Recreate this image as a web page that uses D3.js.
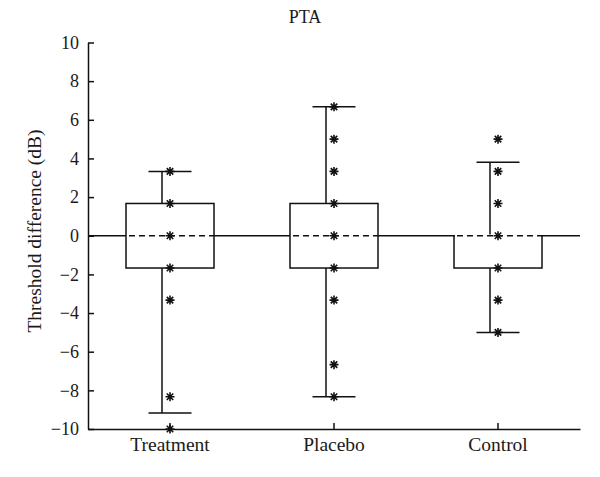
<!DOCTYPE html>
<html>
<head>
<meta charset="utf-8">
<script src="https://cdn.jsdelivr.net/npm/d3@7"></script>
<style>
  body { margin: 0; background: #fff; }
  text { font-family: "Liberation Serif", "DejaVu Serif", serif; fill: #1a1a1a; }
</style>
</head>
<body>
<svg width="600" height="477"></svg>
<script>
var categories = ["Treatment", "Placebo", "Control"];
var boxLow = [-1.67, -1.67, -1.67];
var boxHigh = [1.67, 1.67, 0];
var medians = [0, 0, 0];
var whiskerLow = [-9.17, -8.33, -5];
var whiskerHigh = [3.33, 6.67, 3.8];
var points = [
    [3.33, 1.67, 0, -1.67, -3.33, -8.33, -10],
    [6.67, 5, 3.33, 1.67, 0, -1.67, -3.33, -6.67, -8.33],
    [5, 3.33, 1.67, 0, -1.67, -3.33, -5]
];
var yTicks = [-10, -8, -6, -4, -2, 0, 2, 4, 6, 8, 10];

var plot = {left: 88, right: 580, top: 42.5, bottom: 429};
var boxWidth = 88;
var capWidth = 43;
var whiskerShift = -8;
var lineStroke = 1.5;

var svg = d3.select("svg");

var x = d3.scaleBand()
    .domain(categories)
    .range([plot.left, plot.right]);
var y = d3.scaleLinear()
    .domain([-10, 10])
    .range([plot.bottom, plot.top]);

function center(d) { return x(d) + x.bandwidth() / 2; }

// asterisk marker: plus and cross combined
var asterisk = {
    draw: function(context, size) {
        var r = Math.sqrt(size) / 2;
        var t = r * 0.72;
        context.moveTo(-r, 0); context.lineTo(r, 0);
        context.moveTo(0, -r); context.lineTo(0, r);
        context.moveTo(-t, -t); context.lineTo(t, t);
        context.moveTo(-t, t); context.lineTo(t, -t);
    }
};

// zero line across the plot
svg.append("line")
    .attr("x1", plot.left)
    .attr("x2", plot.right)
    .attr("y1", y(0))
    .attr("y2", y(0))
    .attr("stroke", "#111")
    .attr("stroke-width", lineStroke);

var groups = svg.selectAll("g.box")
    .data(categories)
    .enter()
    .append("g")
    .attr("class", "box");

// whiskers
groups.append("line")
    .attr("x1", function(d) { return center(d) + whiskerShift; })
    .attr("x2", function(d) { return center(d) + whiskerShift; })
    .attr("y1", function(d, i) { return y(boxHigh[i]); })
    .attr("y2", function(d, i) { return y(whiskerHigh[i]); })
    .attr("stroke", "#111")
    .attr("stroke-width", lineStroke);
groups.append("line")
    .attr("x1", function(d) { return center(d) + whiskerShift; })
    .attr("x2", function(d) { return center(d) + whiskerShift; })
    .attr("y1", function(d, i) { return y(boxLow[i]); })
    .attr("y2", function(d, i) { return y(whiskerLow[i]); })
    .attr("stroke", "#111")
    .attr("stroke-width", lineStroke);

// caps
[whiskerLow, whiskerHigh].forEach(function(values) {
    groups.append("line")
        .attr("x1", function(d) { return center(d) - capWidth / 2; })
        .attr("x2", function(d) { return center(d) + capWidth / 2; })
        .attr("y1", function(d, i) { return y(values[i]); })
        .attr("y2", function(d, i) { return y(values[i]); })
        .attr("stroke", "#111")
        .attr("stroke-width", lineStroke);
});

// boxes
groups.append("rect")
    .attr("x", function(d) { return center(d) - boxWidth / 2; })
    .attr("width", boxWidth)
    .attr("y", function(d, i) { return y(boxHigh[i]); })
    .attr("height", function(d, i) { return y(boxLow[i]) - y(boxHigh[i]); })
    .attr("fill", "#fff")
    .attr("stroke", "#111")
    .attr("stroke-width", lineStroke);

// median: white underlay then dashed line
groups.append("line")
    .attr("x1", function(d) { return center(d) - boxWidth / 2 + 1; })
    .attr("x2", function(d) { return center(d) + boxWidth / 2 - 1; })
    .attr("y1", function(d, i) { return y(medians[i]); })
    .attr("y2", function(d, i) { return y(medians[i]); })
    .attr("stroke", "#fff")
    .attr("stroke-width", 2.5);
groups.append("line")
    .attr("x1", function(d) { return center(d) - boxWidth / 2 + 3; })
    .attr("x2", function(d) { return center(d) + boxWidth / 2; })
    .attr("y1", function(d, i) { return y(medians[i]); })
    .attr("y2", function(d, i) { return y(medians[i]); })
    .attr("stroke", "#111")
    .attr("stroke-width", lineStroke)
    .attr("stroke-dasharray", "6 4");

// axes
var yAxis = svg.append("g")
    .attr("transform", "translate(" + plot.left + ",0)")
    .call(d3.axisLeft(y).tickValues(yTicks).tickSizeInner(-6).tickSizeOuter(0).tickPadding(9));
var xAxis = svg.append("g")
    .attr("transform", "translate(0," + plot.bottom + ")")
    .call(d3.axisBottom(x).tickSizeInner(-6).tickSizeOuter(0).tickPadding(8));

[yAxis, xAxis].forEach(function(axis) {
    axis.select(".domain").attr("stroke", "#111").attr("stroke-width", lineStroke);
    axis.selectAll(".tick line").attr("stroke", "#111").attr("stroke-width", lineStroke);
    axis.selectAll(".tick text")
        .style("font-family", "'Liberation Serif', serif")
        .attr("fill", "#1a1a1a");
});
yAxis.selectAll(".tick text").style("font-size", "18px");
xAxis.selectAll(".tick text").style("font-size", "19.5px");

// data points
groups.each(function(d, i) {
    d3.select(this).selectAll("path.pt")
        .data(points[i])
        .enter()
        .append("path")
        .attr("class", "pt")
        .attr("d", d3.symbol().type(asterisk).size(81))
        .attr("transform", function(v) { return "translate(" + center(d) + "," + y(v) + ")"; })
        .attr("fill", "none")
        .attr("stroke", "#111")
        .attr("stroke-width", 1.6);
});

// title and axis label
svg.append("text")
    .attr("x", 305)
    .attr("y", 23)
    .attr("text-anchor", "middle")
    .style("font-size", "18px")
    .text("PTA");

svg.append("text")
    .attr("transform", "translate(41," + 231 + ") rotate(-90)")
    .attr("text-anchor", "middle")
    .style("font-size", "19.5px")
    .text("Threshold difference (dB)");
</script>
</body>
</html>
